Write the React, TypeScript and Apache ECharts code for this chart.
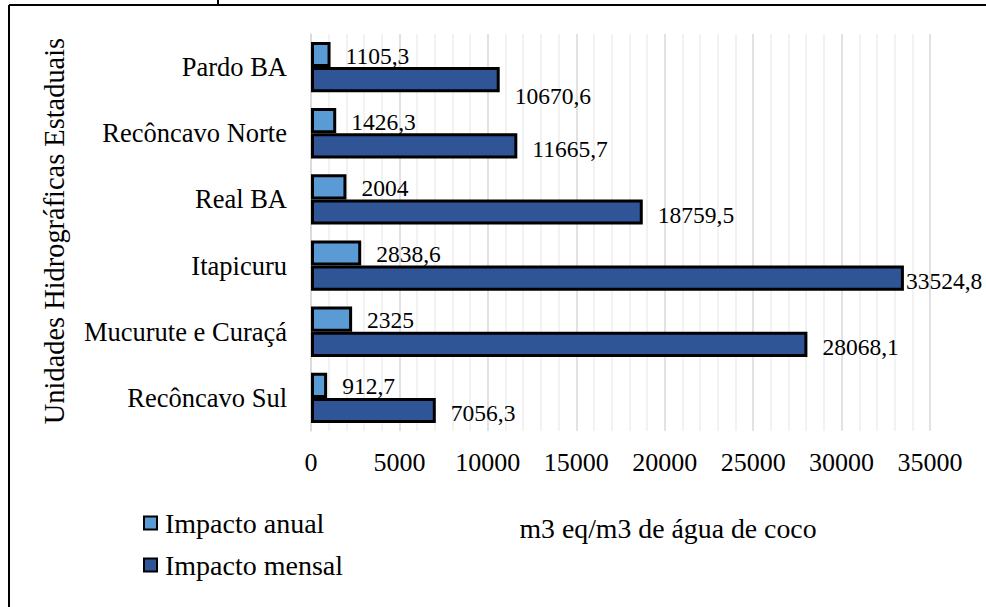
import React, { useEffect, useRef } from "react";
import * as echarts from "echarts";

const categories = ["Recôncavo Sul", "Mucurute e Curaçá", "Itapicuru", "Real BA", "Recôncavo Norte", "Pardo BA"];
const impactoAnual = [912.7, 2325, 2838.6, 2004, 1426.3, 1105.3];
const impactoMensal = [7056.3, 28068.1, 33524.8, 18759.5, 11665.7, 10670.6];
const xTicks = [0, 5000, 10000, 15000, 20000, 25000, 30000, 35000];
const seriesNames = ["Impacto anual", "Impacto mensal"];
const yTitle = "Unidades Hidrográficas Estaduais";
const unitText = "m3 eq/m3 de água de coco";

const FONT = "Liberation Serif";
const fmt = (v: number) => String(v).replace(".", ",");

export default function App() {
  const ref = useRef<HTMLDivElement>(null);
  useEffect(() => {
    document.body.style.margin = "0";
    const chart = echarts.init(ref.current!, null, { renderer: "svg" });
    const maxIdx = impactoMensal.indexOf(Math.max(...impactoMensal));
    const topIdx = categories.length - 1;
    chart.setOption({
      animation: false,
      backgroundColor: "#ffffff",
      textStyle: { fontFamily: FONT },
      grid: { left: 311, right: 56, top: 34, bottom: 176, containLabel: false },
      xAxis: {
        type: "value",
        min: xTicks[0],
        max: xTicks[xTicks.length - 1],
        interval: xTicks[1] - xTicks[0],
        axisLine: { show: false },
        axisTick: { show: false },
        axisLabel: { fontFamily: FONT, fontSize: 26, color: "#000", margin: 18, formatter: (v: number) => String(v) },
        splitLine: { show: true, lineStyle: { color: "#d9d9d9", width: 1.5 } },
        minorTick: { show: false, splitNumber: 5 },
        minorSplitLine: { show: true, lineStyle: { color: "#eeeeee", width: 1.5 } },
      },
      yAxis: {
        type: "category",
        data: categories,
        axisLine: { show: true, lineStyle: { color: "#d9d9d9", width: 1.5 } },
        axisTick: { show: false },
        axisLabel: { fontFamily: FONT, fontSize: 26.5, color: "#000", margin: 24 },
      },
      legend: {
        orient: "vertical",
        left: 143,
        top: 509,
        padding: 0,
        itemGap: 14,
        itemWidth: 13,
        itemHeight: 13,
        icon: "rect",
        data: seriesNames,
        textStyle: { fontFamily: FONT, fontSize: 28, color: "#000", padding: [0, 0, 0, 3] },
      },
      graphic: [
        { type: "line", shape: { x1: 9, y1: 5, x2: 986, y2: 5 }, style: { stroke: "#000", lineWidth: 2 } },
        { type: "line", shape: { x1: 9, y1: 5, x2: 9, y2: 607 }, style: { stroke: "#000", lineWidth: 2 } },
        { type: "line", shape: { x1: 218, y1: 0, x2: 218, y2: 5 }, style: { stroke: "#000", lineWidth: 2 } },
        {
          type: "text",
          x: 54,
          y: 231,
          rotation: Math.PI / 2,
          style: { text: yTitle, fontFamily: FONT, fontSize: 28.4, fill: "#000", align: "center", verticalAlign: "middle" },
        },
        {
          type: "text",
          x: 668,
          y: 528,
          style: { text: unitText, fontFamily: FONT, fontSize: 27.8, fill: "#000", align: "center", verticalAlign: "middle" },
        },
      ],
      series: [
        {
          name: seriesNames[0],
          type: "bar",
          barGap: "0%",
          barCategoryGap: "24%",
          data: impactoAnual,
          itemStyle: { color: "#5B9BD5", borderColor: "#000", borderWidth: 3 },
          label: {
            show: true,
            position: "right",
            distance: 15,
            offset: [0, 1],
            formatter: (p: any) => fmt(p.value),
            fontFamily: FONT,
            fontSize: 23.5,
            color: "#000",
          },
        },
        {
          name: seriesNames[1],
          type: "bar",
          barGap: "0%",
          barCategoryGap: "24%",
          data: impactoMensal.map((v, i) =>
            i === maxIdx
              ? { value: v, label: { distance: 2, offset: [0, 3] } }
              : i === topIdx
              ? { value: v, label: { offset: [0, 16] } }
              : { value: v }
          ),
          itemStyle: { color: "#2F5597", borderColor: "#000", borderWidth: 3 },
          label: {
            show: true,
            position: "right",
            distance: 15,
            offset: [0, 3],
            formatter: (p: any) => fmt(p.value),
            fontFamily: FONT,
            fontSize: 23.5,
            color: "#000",
          },
        },
      ],
    });
    return () => chart.dispose();
  }, []);
  return <div ref={ref} style={{ width: 986, height: 607 }} />;
}
